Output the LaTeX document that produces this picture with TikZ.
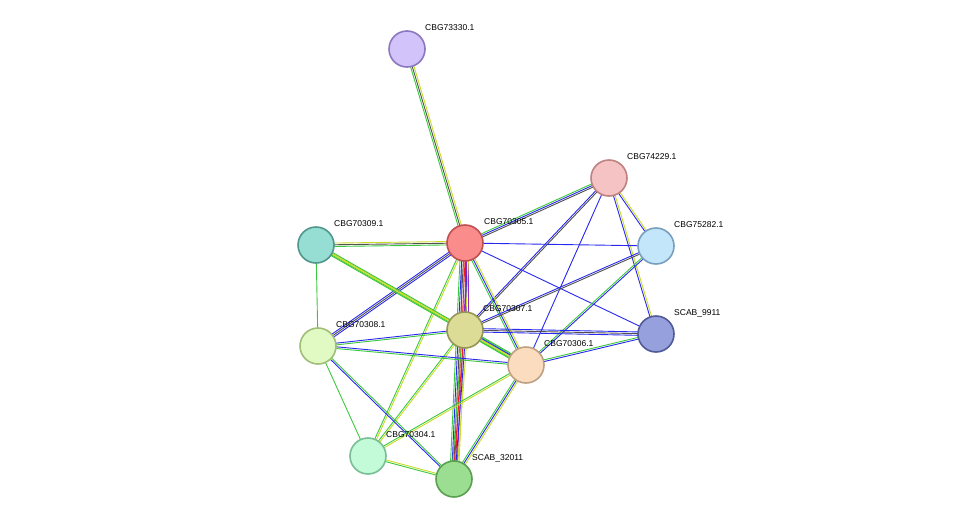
\documentclass[tikz,border=0pt]{standalone}
\usepackage{fontspec}
\setmainfont{Liberation Sans}
\usetikzlibrary{calc}
\definecolor{eg}{HTML}{3CC83C}
\definecolor{ey}{HTML}{C8DC28}
\definecolor{ek}{HTML}{505050}
\definecolor{eb}{HTML}{2828F0}
\definecolor{er}{HTML}{F01E1E}
\definecolor{ep}{HTML}{9628C8}
\newcommand\edge[3]{%
  \foreach \c [count=\i] in {#3} {%
    \pgfmathsetmacro\o{(\i-(#2+1)/2)*1.7}%
    \draw[\c, line width=0.9pt] let \p1=($(#1b)-(#1a)$), \n1={atan2(\y1,\x1)+90} in
      ($(#1a)+(\n1:\o pt)$) -- ($(#1b)+(\n1:\o pt)$);
  }}
\newcommand\E[4]{\coordinate (Xa) at (#1); \coordinate (Xb) at (#2); \edge{X}{#3}{#4}}
\tikzset{pn/.style={circle, minimum size=36pt, inner sep=0pt, line width=1.6pt},
  lb/.style={anchor=west, font=\fontsize{8.5}{10}\selectfont, inner sep=0pt}}
\begin{document}
\begin{tikzpicture}[x=1pt,y=-1pt]
\useasboundingbox[fill=white] (0,0) rectangle (976,525);
\coordinate (n73330) at (407,49);
\coordinate (n74229) at (609,178);
\coordinate (n70309) at (316,245);
\coordinate (n70305) at (465,243);
\coordinate (n75282) at (656,246);
\coordinate (n70307) at (465,330);
\coordinate (n9911) at (656,334);
\coordinate (n70308) at (318,346);
\coordinate (n70306) at (526,365);
\coordinate (n70304) at (368,456);
\coordinate (n32011) at (454,479);
\E{n73330}{n70305}{3}{eg,ek,ey}
\E{n74229}{n70305}{3}{eg,eb,ek}
\E{n74229}{n70307}{2}{eb,ek}
\E{n74229}{n70306}{1}{eb}
\E{n74229}{n75282}{2}{eb,ey}
\E{n74229}{n9911}{2}{eb,ey}
\E{n70305}{n75282}{1}{eb}
\E{n70305}{n9911}{1}{eb}
\E{n70305}{n70309}{3}{ey,ek,eg}
\E{n70305}{n70308}{3}{eb,ek,eb}
\E{n70305}{n70307}{5}{eg,ey,ek,eb,ep}
\E{n70305}{n70306}{3}{eg,eb,ey}
\E{n70305}{n32011}{6}{eg,eb,ek,er,ep,ey}
\E{n70305}{n70304}{2}{eg,ey}
\E{n70309}{n70307}{2}{eg,ey}
\E{n70309}{n70306}{3}{eg,ey,eg}
\E{n70309}{n70308}{1}{eg}
\E{n75282}{n70307}{2}{eb,ek}
\E{n75282}{n70306}{2}{eg,eb}
\E{n9911}{n70307}{3}{eb,ek,eb}
\E{n9911}{n70306}{2}{eg,eb}
\E{n70307}{n70306}{4}{eg,ey,eb,eg}
\E{n70307}{n70308}{2}{eb,eg}
\E{n70307}{n32011}{4}{eg,er,eb,ey}
\E{n70307}{n70304}{2}{eg,ey}
\E{n70308}{n70306}{2}{eg,eb}
\E{n70308}{n70304}{1}{eg}
\E{n70308}{n32011}{2}{eb,eg}
\E{n70306}{n32011}{3}{eg,eb,ey}
\E{n70306}{n70304}{2}{eg,ey}
\E{n70304}{n32011}{2}{eg,ey}
\node[pn, fill={rgb,255:red,210;green,195;blue,250}, draw={rgb,255:red,140;green,120;blue,190}] (a) at (n73330) {};
\node[pn, fill={rgb,255:red,245;green,195;blue,195}, draw={rgb,255:red,190;green,130;blue,130}] (b) at (n74229) {};
\node[pn, fill={rgb,255:red,150;green,222;blue,212}, draw={rgb,255:red,80;green,150;blue,140}] (c) at (n70309) {};
\node[pn, fill={rgb,255:red,250;green,140;blue,140}, draw={rgb,255:red,190;green,80;blue,80}] (d) at (n70305) {};
\node[pn, fill={rgb,255:red,195;green,230;blue,250}, draw={rgb,255:red,120;green,160;blue,190}] (e) at (n75282) {};
\node[pn, fill={rgb,255:red,220;green,220;blue,150}, draw={rgb,255:red,150;green,150;blue,90}] (f) at (n70307) {};
\node[pn, fill={rgb,255:red,150;green,160;blue,220}, draw={rgb,255:red,80;green,90;blue,150}] (g) at (n9911) {};
\node[pn, fill={rgb,255:red,225;green,250;blue,195}, draw={rgb,255:red,160;green,190;blue,120}] (h) at (n70308) {};
\node[pn, fill={rgb,255:red,252;green,220;blue,190}, draw={rgb,255:red,190;green,160;blue,130}] (i) at (n70306) {};
\node[pn, fill={rgb,255:red,195;green,250;blue,215}, draw={rgb,255:red,120;green,190;blue,150}] (j) at (n70304) {};
\node[pn, fill={rgb,255:red,155;green,222;blue,145}, draw={rgb,255:red,90;green,160;blue,80}] (k) at (n32011) {};
\node[lb] (la) at ($(n73330)+(18,-21)$) {CBG73330.1};
\node[lb] (lb2) at ($(n74229)+(18,-21)$) {CBG74229.1};
\node[lb] (lc) at ($(n70309)+(18,-21)$) {CBG70309.1};
\node[lb] (ld) at ($(n70305)+(19,-21)$) {CBG70305.1};
\node[lb] (le) at ($(n75282)+(18,-21)$) {CBG75282.1};
\node[lb] (lf) at ($(n70307)+(18,-21)$) {CBG70307.1};
\node[lb] (lg) at ($(n9911)+(18,-21)$) {SCAB\_9911};
\node[lb] (lh) at ($(n70308)+(18,-21)$) {CBG70308.1};
\node[lb] (li) at ($(n70306)+(18,-21)$) {CBG70306.1};
\node[lb] (lj) at ($(n70304)+(18,-21)$) {CBG70304.1};
\node[lb] (lk) at ($(n32011)+(18,-21)$) {SCAB\_32011};
\end{tikzpicture}
\end{document}
